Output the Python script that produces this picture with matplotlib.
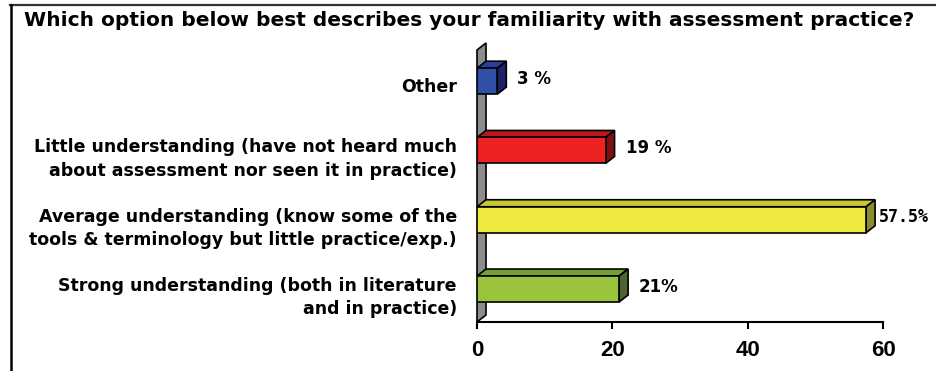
import numpy as np
import matplotlib
matplotlib.use('Agg')
import matplotlib.pyplot as plt
import matplotlib.transforms as mtransforms
from matplotlib.patches import Polygon
from matplotlib.lines import Line2D

plt.rcParams['font.family'] = ['DejaVu Sans']
plt.rcParams['font.weight'] = 'bold'

# data
title = 'Which option below best describes your familiarity with assessment practice?'
categories = ['Strong understanding (both in literature\nand in practice)',
              'Average understanding (know some of the\ntools & terminology but little practice/exp.)',
              'Little understanding (have not heard much\nabout assessment nor seen it in practice)',
              'Other']
values = [21, 57.5, 19, 3]
value_labels = ['21%', '57.5%', '19 %', '3 %']
xticks = [0, 20, 40, 60]

front_colors = ['#99c43c', '#eeea40', '#ee2222', '#3050a8']
top_colors = ['#74a032', '#c8c632', '#b81a1a', '#2a40a0']
side_colors = ['#4c6430', '#8a8a30', '#801010', '#20206a']

W, H = 936, 371
fig = plt.figure(figsize=(W / 100, H / 100), dpi=100)
ax = fig.add_axes([477 / W, 49 / H, 406 / W, 272 / H])
ylo, yhi = -0.476, 3.45
ax.set_xlim(0, 60)
ax.set_ylim(ylo, yhi)

# pixel -> data units for the 3d depth
px_x = 60 / 406.0
px_y = (yhi - ylo) / 272.0
dx = 9 * px_x
dy = 7 * px_y
h = 0.375

# side wall
wall = Polygon([(0, ylo), (0, yhi), (dx, yhi + dy), (dx, ylo + dy)],
               closed=True, facecolor='#8c8c8c', edgecolor='black', lw=1.2,
               clip_on=False, zorder=1)
ax.add_patch(wall)

ypos = np.arange(len(values))
ax.barh(ypos, values, height=h, color=front_colors, edgecolor='black', lw=1.2, zorder=3)
for y, v, tc, sc, lab in zip(ypos, values, top_colors, side_colors, value_labels):
    top = Polygon([(0, y + h / 2), (v, y + h / 2), (v + dx, y + h / 2 + dy), (dx, y + h / 2 + dy)],
                  closed=True, facecolor=tc, edgecolor='black', lw=1.2, clip_on=False, zorder=2)
    side = Polygon([(v, y - h / 2), (v + dx, y - h / 2 + dy), (v + dx, y + h / 2 + dy), (v, y + h / 2)],
                   closed=True, facecolor=sc, edgecolor='black', lw=1.2, clip_on=False, zorder=2)
    ax.add_patch(top)
    ax.add_patch(side)
    gap = 4 if v > 50 else 11
    fam = ['DejaVu Sans Mono'] if '.' in lab else ['DejaVu Sans']
    ax.annotate(lab, (v + dx, y + dy / 2), xytext=(gap, -1), textcoords='offset pixels',
                ha='left', va='center', fontsize=12, fontweight='bold', family=fam,
                annotation_clip=False)

ax.set_yticks(ypos)
ax.set_yticklabels(categories, fontsize=12.5, fontweight='bold', ha='right',
                   multialignment='right', linespacing=1.38)
ax.tick_params(axis='y', length=0, pad=14.5)
shift = mtransforms.ScaledTranslation(0, -4 / 100, fig.dpi_scale_trans)
for t in ax.get_yticklabels():
    t.set_transform(t.get_transform() + shift)

ax.set_xticks(xticks)
ax.set_xticklabels([str(t) for t in xticks], fontsize=16, fontweight='bold',
                   family=['Liberation Sans'])
ax.tick_params(axis='x', direction='out', length=5, width=1.5, pad=8)
for s in ['top', 'right', 'left']:
    ax.spines[s].set_visible(False)
ax.spines['bottom'].set_linewidth(1.5)
ax.patch.set_alpha(0)

fig.text(469 / W, 1 - 20 / H, title, ha='center', va='center', fontsize=14.5, fontweight='bold')

# outer frame (cropped)
fig.add_artist(Line2D([10 / W, 1], [1 - 5 / H, 1 - 5 / H], color='#333333', lw=1.6))
fig.add_artist(Line2D([11 / W, 11 / W], [0, 1 - 5 / H], color='black', lw=1.8))

fig.savefig('out.png', dpi=100)
